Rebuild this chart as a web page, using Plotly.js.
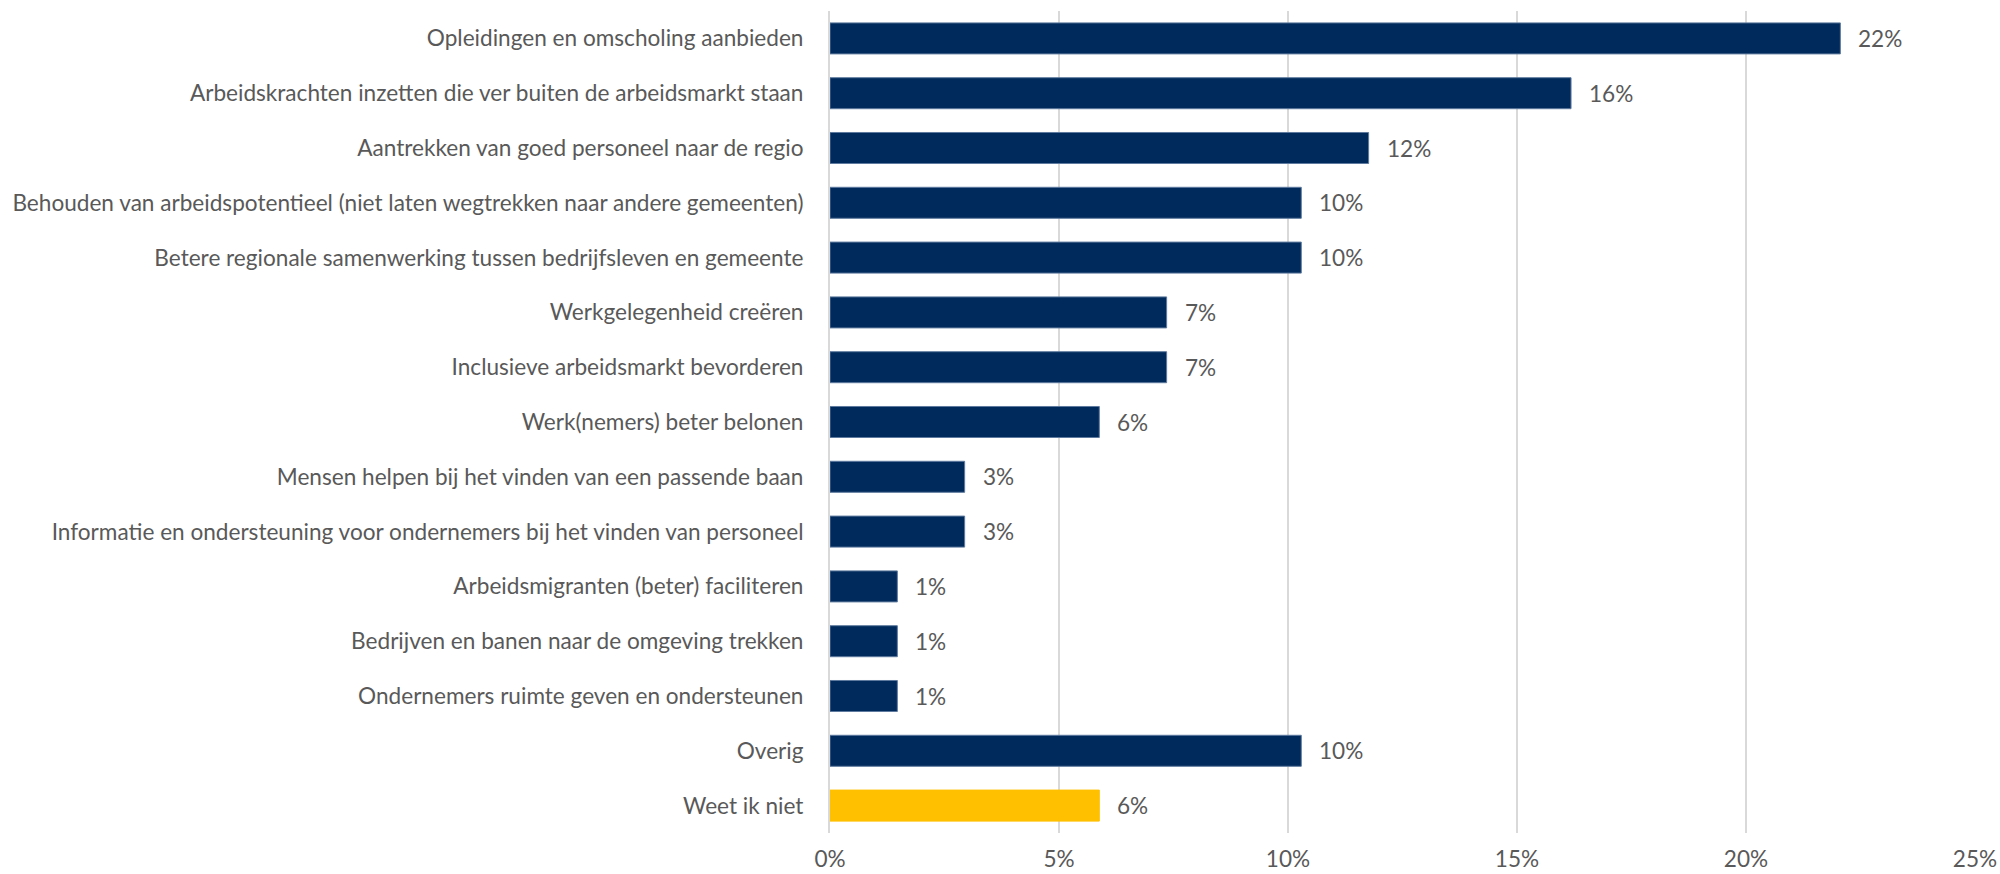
<!DOCTYPE html>
<html>
<head>
<meta charset="utf-8">
<script src="https://cdn.plot.ly/plotly-3.0.1.min.js"></script>
<style>html,body{margin:0;padding:0;background:#fff;}#chart{width:2000px;height:874px;}</style>
</head>
<body>
<div id="chart"></div>
<script>
const categories = [
  "Opleidingen en omscholing aanbieden",
  "Arbeidskrachten inzetten die ver buiten de arbeidsmarkt staan",
  "Aantrekken van goed personeel naar de regio",
  "Behouden van arbeidspotentieel (niet laten wegtrekken naar andere gemeenten)",
  "Betere regionale samenwerking tussen bedrijfsleven en gemeente",
  "Werkgelegenheid creëren",
  "Inclusieve arbeidsmarkt bevorderen",
  "Werk(nemers) beter belonen",
  "Mensen helpen bij het vinden van een passende baan",
  "Informatie en ondersteuning voor ondernemers bij het vinden van personeel",
  "Arbeidsmigranten (beter) faciliteren",
  "Bedrijven en banen naar de omgeving trekken",
  "Ondernemers ruimte geven en ondersteunen",
  "Overig",
  "Weet ik niet"
];
const values = [22.06, 16.18, 11.76, 10.29, 10.29, 7.35, 7.35, 5.88, 2.94, 2.94, 1.47, 1.47, 1.47, 10.29, 5.88];
const valueLabels = ["22%","16%","12%","10%","10%","7%","7%","6%","3%","3%","1%","1%","1%","10%","6%"];
const barColors = ["#002A5C","#002A5C","#002A5C","#002A5C","#002A5C","#002A5C","#002A5C","#002A5C","#002A5C","#002A5C","#002A5C","#002A5C","#002A5C","#002A5C","#FFC000"];
const lineColors = ["#5E7A9E","#5E7A9E","#5E7A9E","#5E7A9E","#5E7A9E","#5E7A9E","#5E7A9E","#5E7A9E","#5E7A9E","#5E7A9E","#5E7A9E","#5E7A9E","#5E7A9E","#5E7A9E","#FFC000"];
const xTickVals = [0, 5, 10, 15, 20, 25];
const xTickText = ["0%","5%","10%","15%","20%","25%"];

const font = "Lato, 'Open Sans', sans-serif";
const textColor = "#595959";
const fs = 22.6;

const trace = {
  type: "bar",
  orientation: "h",
  y: categories,
  x: values,
  marker: { color: barColors, line: { color: lineColors, width: 1 } },
  hoverinfo: "none"
};

const annotations = categories.map((c, i) => ({
  x: values[i], y: c, xref: "x", yref: "y",
  text: valueLabels[i], showarrow: false,
  xanchor: "left", yanchor: "middle", xshift: 16,
  font: { family: font, size: fs, color: textColor }
}));

const layout = {
  width: 2000, height: 874,
  margin: { l: 829.5, r: 24.7, t: 11, b: 41, pad: 0 },
  paper_bgcolor: "#fff", plot_bgcolor: "#fff",
  showlegend: false,
  bargap: 0.434,
  font: { family: font, size: fs, color: textColor },
  xaxis: {
    range: [0, 25], tickvals: xTickVals, ticktext: xTickText,
    showgrid: true, gridcolor: "#D9D9D9", gridwidth: 2,
    zeroline: false, showline: false, ticks: "",
    ticklabelstandoff: 10,
    tickfont: { family: font, size: fs, color: textColor },
    fixedrange: true
  },
  yaxis: {
    type: "category", categoryorder: "array", categoryarray: categories,
    autorange: "reversed",
    showgrid: false, zeroline: false,
    showline: true, linecolor: "#D9D9D9", linewidth: 2,
    ticks: "", ticklabelstandoff: 20,
    tickfont: { family: font, size: fs, color: textColor },
    fixedrange: true
  },
  annotations: annotations
};

Plotly.newPlot("chart", [trace], layout, { displayModeBar: false, staticPlot: true });
</script>
</body>
</html>
